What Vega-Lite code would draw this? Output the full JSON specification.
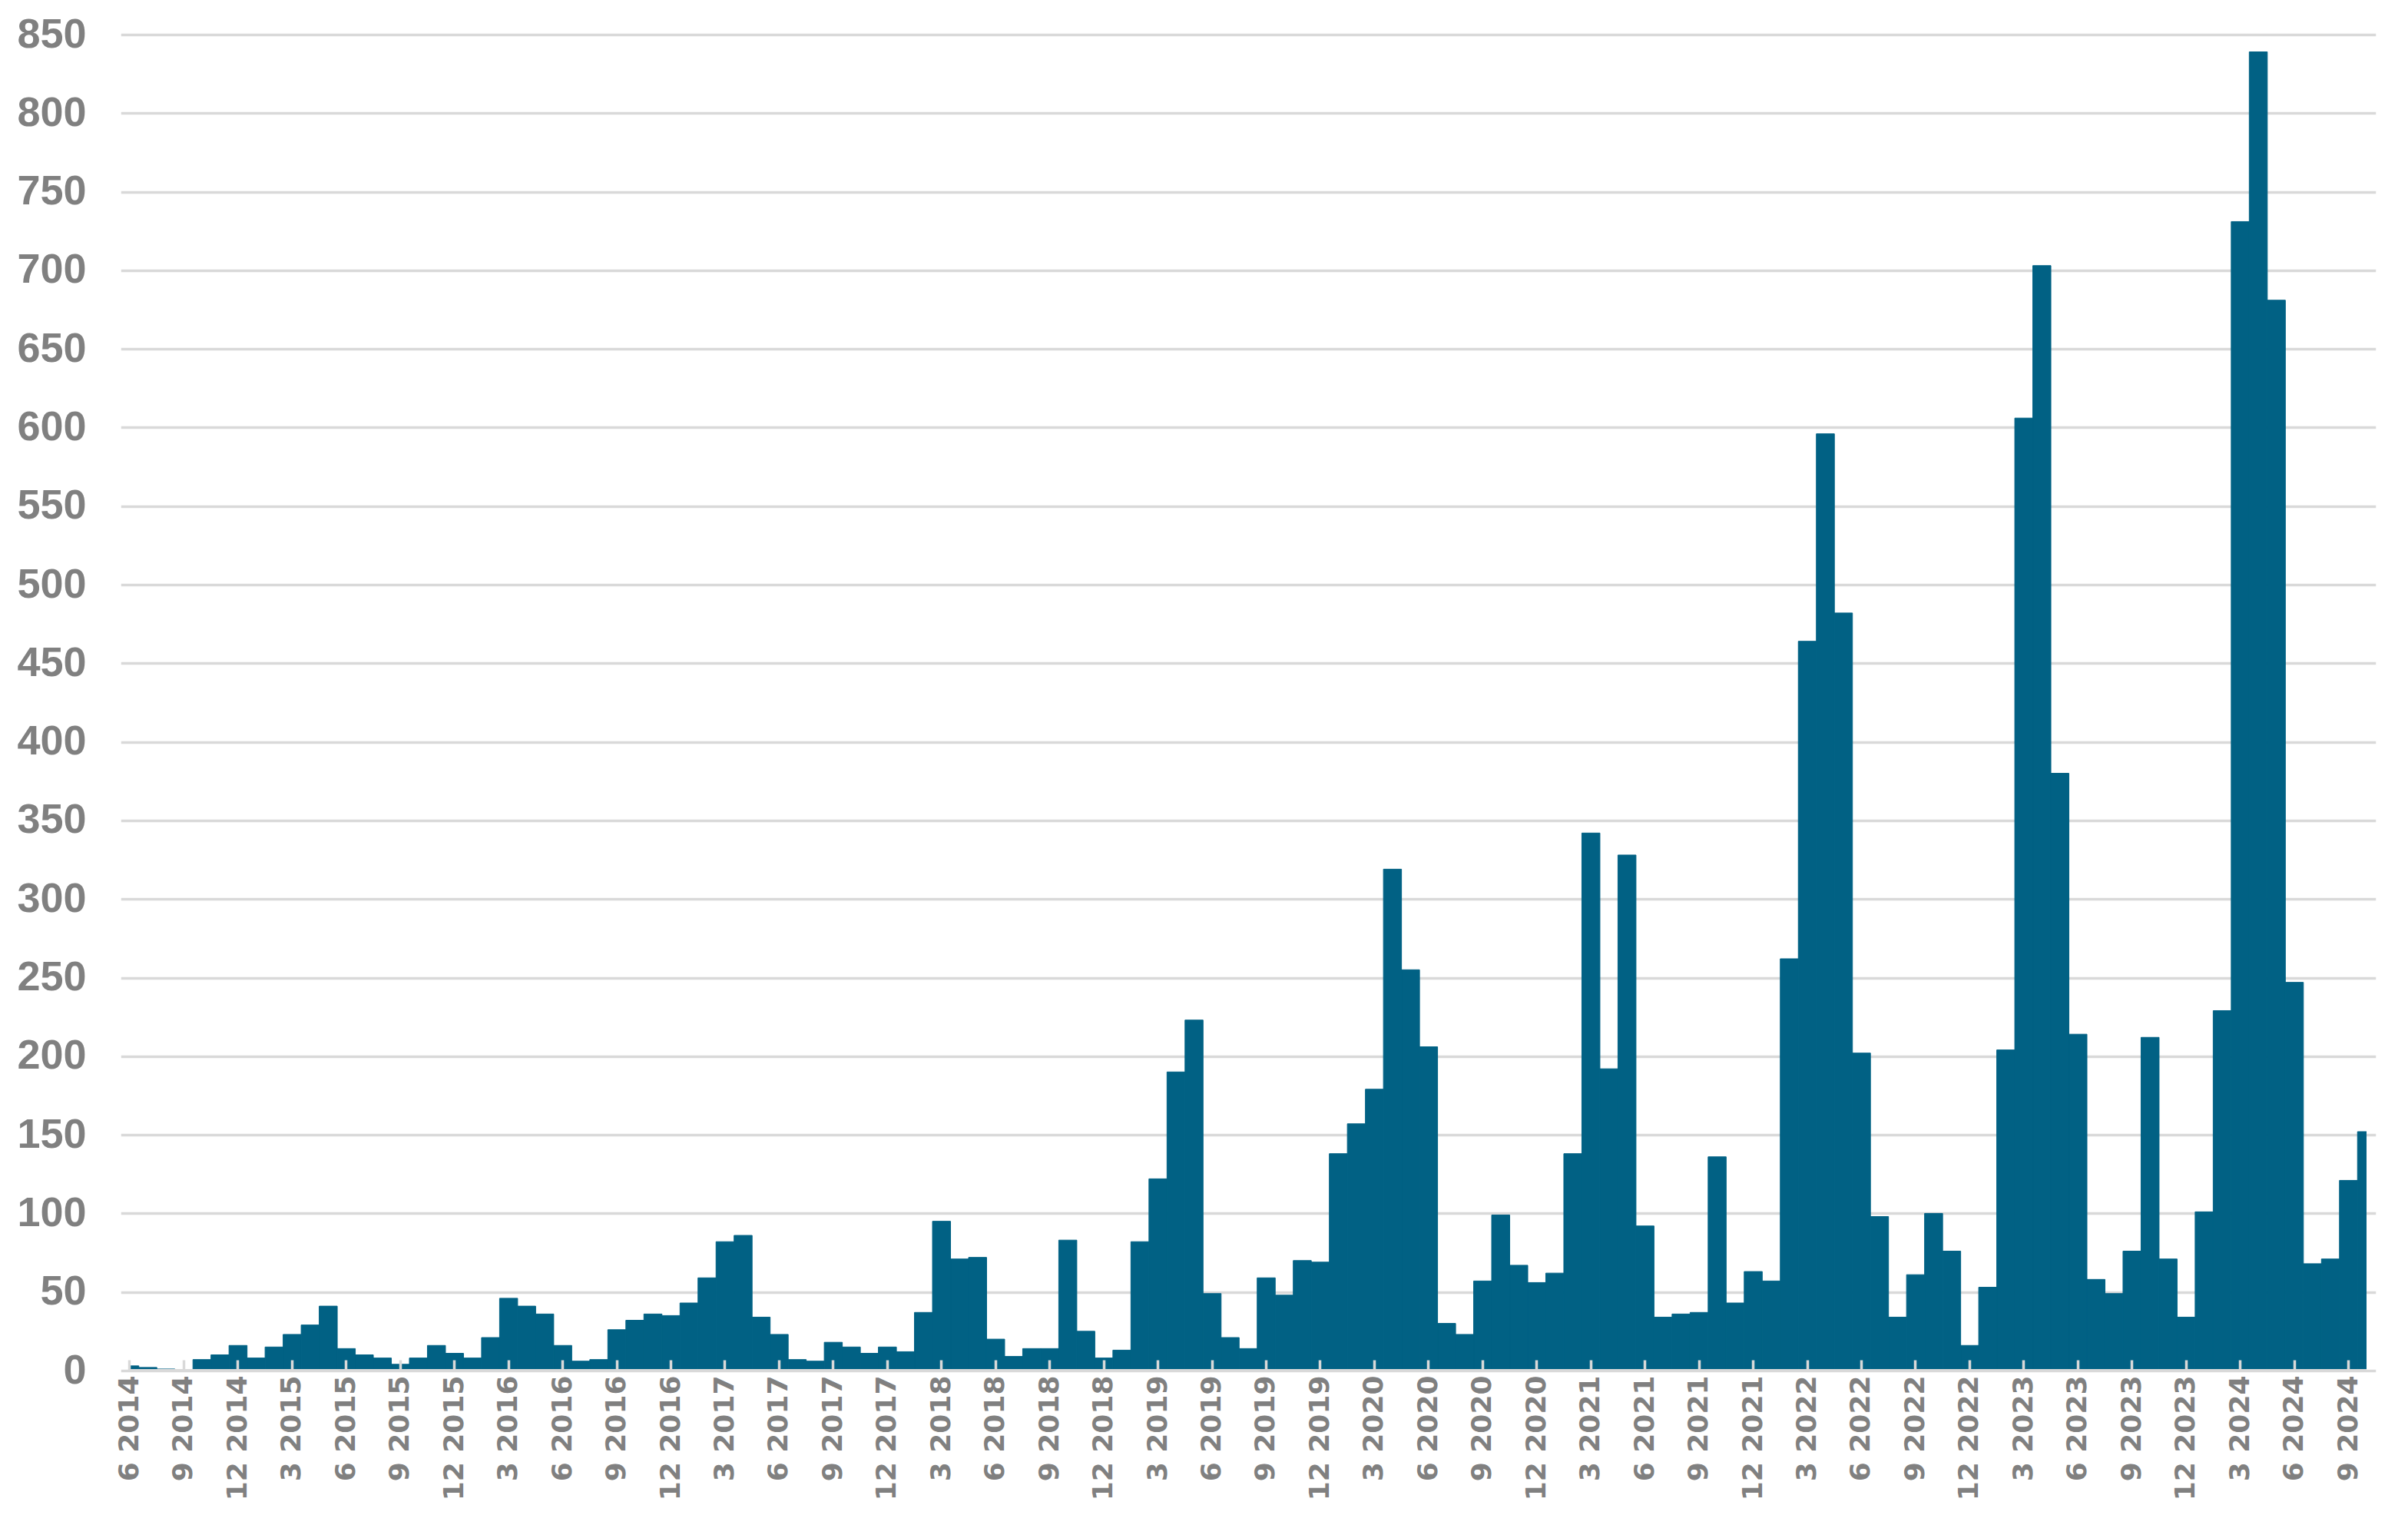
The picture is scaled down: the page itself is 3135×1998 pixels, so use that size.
{
  "$schema": "https://vega.github.io/schema/vega-lite/v6.json",
  "width": 2912,
  "height": 1739,
  "autosize": {"type": "none"},
  "padding": {"left": 169, "top": 45, "right": 54, "bottom": 214},
  "background": "white",
  "config": {"view": {"stroke": null}},
  "data": {
    "values": [
      {"m": "6 2014", "v": 3}, {"m": "7 2014", "v": 2}, {"m": "8 2014", "v": 1}, {"m": "9 2014", "v": 0}, {"m": "10 2014", "v": 7}, {"m": "11 2014", "v": 10}, {"m": "12 2014", "v": 16},
      {"m": "1 2015", "v": 8}, {"m": "2 2015", "v": 15}, {"m": "3 2015", "v": 23}, {"m": "4 2015", "v": 29}, {"m": "5 2015", "v": 41}, {"m": "6 2015", "v": 14}, {"m": "7 2015", "v": 10}, {"m": "8 2015", "v": 8}, {"m": "9 2015", "v": 4}, {"m": "10 2015", "v": 8}, {"m": "11 2015", "v": 16}, {"m": "12 2015", "v": 11},
      {"m": "1 2016", "v": 8}, {"m": "2 2016", "v": 21}, {"m": "3 2016", "v": 46}, {"m": "4 2016", "v": 41}, {"m": "5 2016", "v": 36}, {"m": "6 2016", "v": 16}, {"m": "7 2016", "v": 6}, {"m": "8 2016", "v": 7}, {"m": "9 2016", "v": 26}, {"m": "10 2016", "v": 32}, {"m": "11 2016", "v": 36}, {"m": "12 2016", "v": 35},
      {"m": "1 2017", "v": 43}, {"m": "2 2017", "v": 59}, {"m": "3 2017", "v": 82}, {"m": "4 2017", "v": 86}, {"m": "5 2017", "v": 34}, {"m": "6 2017", "v": 23}, {"m": "7 2017", "v": 7}, {"m": "8 2017", "v": 6}, {"m": "9 2017", "v": 18}, {"m": "10 2017", "v": 15}, {"m": "11 2017", "v": 11}, {"m": "12 2017", "v": 15},
      {"m": "1 2018", "v": 12}, {"m": "2 2018", "v": 37}, {"m": "3 2018", "v": 95}, {"m": "4 2018", "v": 71}, {"m": "5 2018", "v": 72}, {"m": "6 2018", "v": 20}, {"m": "7 2018", "v": 9}, {"m": "8 2018", "v": 14}, {"m": "9 2018", "v": 14}, {"m": "10 2018", "v": 83}, {"m": "11 2018", "v": 25}, {"m": "12 2018", "v": 8},
      {"m": "1 2019", "v": 13}, {"m": "2 2019", "v": 82}, {"m": "3 2019", "v": 122}, {"m": "4 2019", "v": 190}, {"m": "5 2019", "v": 223}, {"m": "6 2019", "v": 49}, {"m": "7 2019", "v": 21}, {"m": "8 2019", "v": 14}, {"m": "9 2019", "v": 59}, {"m": "10 2019", "v": 48}, {"m": "11 2019", "v": 70}, {"m": "12 2019", "v": 69},
      {"m": "1 2020", "v": 138}, {"m": "2 2020", "v": 157}, {"m": "3 2020", "v": 179}, {"m": "4 2020", "v": 319}, {"m": "5 2020", "v": 255}, {"m": "6 2020", "v": 206}, {"m": "7 2020", "v": 30}, {"m": "8 2020", "v": 23}, {"m": "9 2020", "v": 57}, {"m": "10 2020", "v": 99}, {"m": "11 2020", "v": 67}, {"m": "12 2020", "v": 56},
      {"m": "1 2021", "v": 62}, {"m": "2 2021", "v": 138}, {"m": "3 2021", "v": 342}, {"m": "4 2021", "v": 192}, {"m": "5 2021", "v": 328}, {"m": "6 2021", "v": 92}, {"m": "7 2021", "v": 34}, {"m": "8 2021", "v": 36}, {"m": "9 2021", "v": 37}, {"m": "10 2021", "v": 136}, {"m": "11 2021", "v": 43}, {"m": "12 2021", "v": 63},
      {"m": "1 2022", "v": 57}, {"m": "2 2022", "v": 262}, {"m": "3 2022", "v": 464}, {"m": "4 2022", "v": 596}, {"m": "5 2022", "v": 482}, {"m": "6 2022", "v": 202}, {"m": "7 2022", "v": 98}, {"m": "8 2022", "v": 34}, {"m": "9 2022", "v": 61}, {"m": "10 2022", "v": 100}, {"m": "11 2022", "v": 76}, {"m": "12 2022", "v": 16},
      {"m": "1 2023", "v": 53}, {"m": "2 2023", "v": 204}, {"m": "3 2023", "v": 606}, {"m": "4 2023", "v": 703}, {"m": "5 2023", "v": 380}, {"m": "6 2023", "v": 214}, {"m": "7 2023", "v": 58}, {"m": "8 2023", "v": 49}, {"m": "9 2023", "v": 76}, {"m": "10 2023", "v": 212}, {"m": "11 2023", "v": 71}, {"m": "12 2023", "v": 34},
      {"m": "1 2024", "v": 101}, {"m": "2 2024", "v": 229}, {"m": "3 2024", "v": 731}, {"m": "4 2024", "v": 839}, {"m": "5 2024", "v": 681}, {"m": "6 2024", "v": 247}, {"m": "7 2024", "v": 68}, {"m": "8 2024", "v": 71}, {"m": "9 2024", "v": 121}, {"m": "10 2024", "v": 152}
    ]
  },
  "layer": [
    {
      "mark": {"type": "bar", "color": "#016184", "stroke": "#016184", "strokeWidth": 1, "clip": true},
      "encoding": {
        "x": {
          "field": "m",
          "type": "ordinal",
          "sort": null,
          "scale": {"type": "band", "paddingInner": 0, "paddingOuter": 0, "range": [-11.742, 2923.742]},
          "axis": {
            "values": ["6 2014", "9 2014", "12 2014", "3 2015", "6 2015", "9 2015", "12 2015", "3 2016", "6 2016", "9 2016", "12 2016", "3 2017", "6 2017", "9 2017", "12 2017", "3 2018", "6 2018", "9 2018", "12 2018", "3 2019", "6 2019", "9 2019", "12 2019", "3 2020", "6 2020", "9 2020", "12 2020", "3 2021", "6 2021", "9 2021", "12 2021", "3 2022", "6 2022", "9 2022", "12 2022", "3 2023", "6 2023", "9 2023", "12 2023", "3 2024", "6 2024", "9 2024"],
            "title": null,
            "domain": false,
            "grid": false,
            "ticks": true,
            "tickSize": -14,
            "tickWidth": 3.5,
            "tickColor": "#d9d9d9",
            "labelAngle": -90,
            "labelFont": "DejaVu Sans",
            "labelFontWeight": "bold",
            "labelFontSize": 36,
            "labelColor": "#808080",
            "labelPadding": 20,
            "labelOverlap": false,
            "labelBound": false,
            "zindex": 1
          }
        },
        "y": {
          "field": "v",
          "type": "quantitative",
          "scale": {"domain": [0, 850], "nice": false, "zero": true},
          "axis": {
            "values": [0, 50, 100, 150, 200, 250, 300, 350, 400, 450, 500, 550, 600, 650, 700, 750, 800, 850],
            "title": null,
            "domain": false,
            "ticks": false,
            "grid": true,
            "gridColor": "#d9d9d9",
            "gridWidth": 3.5,
            "labelFont": "Liberation Sans",
            "labelFontWeight": "bold",
            "labelFontSize": 54,
            "labelColor": "#808080",
            "labelPadding": 57
          }
        }
      }
    },
    {
      "mark": {"type": "rule", "color": "#d9d9d9", "strokeWidth": 3.5},
      "encoding": {"y": {"datum": 0}}
    }
  ]
}
